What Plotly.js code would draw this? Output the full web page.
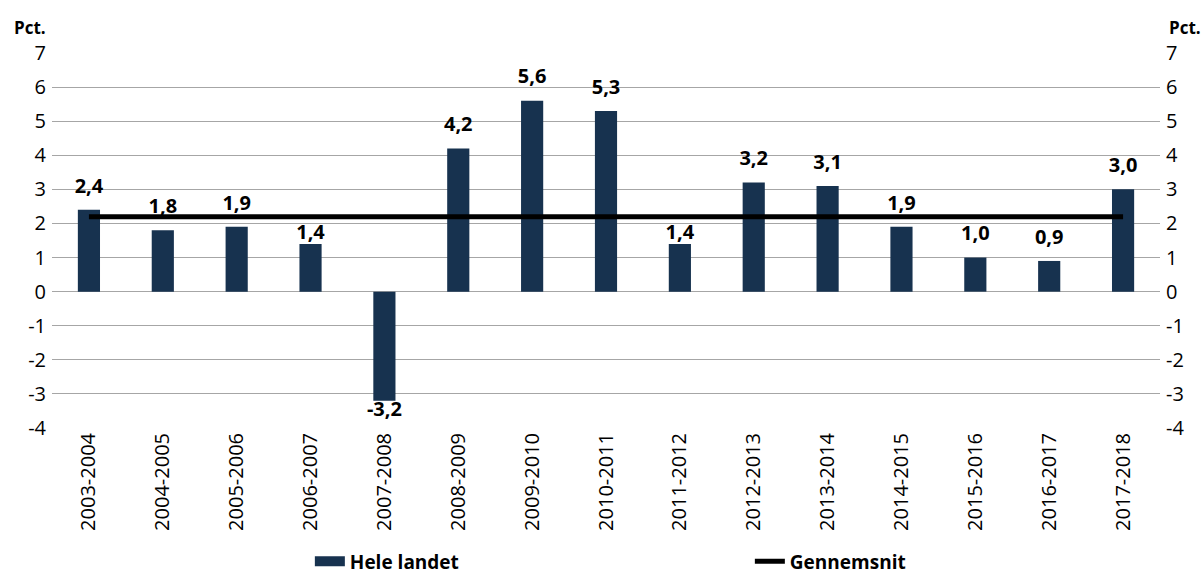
<!DOCTYPE html>
<html>
<head>
<meta charset="utf-8">
<script src="https://cdn.plot.ly/plotly-3.0.1.min.js"></script>
<style>html,body{margin:0;padding:0;background:#fff;}#chart{width:1201px;height:574px;}</style>
</head>
<body>
<div id="chart"></div>
<script>
const categories = ["2003-2004","2004-2005","2005-2006","2006-2007","2007-2008","2008-2009","2009-2010","2010-2011","2011-2012","2012-2013","2013-2014","2014-2015","2015-2016","2016-2017","2017-2018"];
const heleLandet = [2.4,1.8,1.9,1.4,-3.2,4.2,5.6,5.3,1.4,3.2,3.1,1.9,1.0,0.9,3.0];
const gennemsnit = [2.2,2.2,2.2,2.2,2.2,2.2,2.2,2.2,2.2,2.2,2.2,2.2,2.2,2.2,2.2];
const tickVals = [-4,-3,-2,-1,0,1,2,3,4,5,6,7];
const tickText = ["-4","-3","-2","-1","0","1","2","3","4","5","6","7"];

// styling: label gap (marker size used as spacer); the two 1,4 labels sit closer to their bars
const labelGap = [18,18,18,0,0,18,18,18,0,18,18,18,18,18,18];

const font = "'Open Sans', 'Noto Sans', sans-serif";
const barColor = '#17324f';
const labels = heleLandet.map(v => v.toFixed(1).replace('.', ','));

const traces = [
  {
    type: 'bar', name: 'Hele landet', x: categories, y: heleLandet,
    marker: {color: barColor}, showlegend: false, hoverinfo: 'none'
  },
  {
    type: 'scatter', mode: 'markers+text', x: categories, y: heleLandet, showlegend: false,
    text: labels, cliponaxis: false,
    textposition: heleLandet.map(v => v >= 0 ? 'top center' : 'bottom center'),
    marker: {size: labelGap, color: 'rgba(0,0,0,0)', line: {width: 0}},
    textfont: {family: font, size: 20, color: '#000', weight: 'bold'},
    hoverinfo: 'none'
  },
  {
    type: 'scatter', mode: 'lines', name: 'Gennemsnit', x: categories, y: gennemsnit,
    line: {color: '#000', width: 5}, showlegend: false,
    hoverinfo: 'none'
  },
  {
    type: 'scatter', mode: 'lines', name: 'Hele landet', x: [categories[0]], y: [null],
    line: {color: barColor, width: 15}, showlegend: true, hoverinfo: 'none'
  },
  {
    type: 'scatter', mode: 'lines', name: 'Gennemsnit', x: [categories[0]], y: [null],
    line: {color: '#000', width: 5}, showlegend: true, hoverinfo: 'none'
  },
  {
    type: 'scatter', mode: 'lines', x: categories, y: gennemsnit, yaxis: 'y2',
    showlegend: false, line: {color: 'rgba(0,0,0,0)', width: 0}, hoverinfo: 'none'
  }
];

const axisY = {
  range: [-4, 7], tickvals: tickVals, ticktext: tickText,
  showgrid: true, gridcolor: '#a6a6a6', gridwidth: 1,
  zeroline: false, showline: false, ticks: '',
  tickfont: {family: font, size: 20, color: '#000'}, fixedrange: true
};

const layout = {
  width: 1201, height: 574,
  margin: {l: 52, r: 41, t: 53, b: 146, autoexpand: false},
  paper_bgcolor: '#fff', plot_bgcolor: '#fff',
  font: {family: font, color: '#000'},
  bargap: 0.7,
  showlegend: true,
  xaxis: {
    type: 'category', range: [-0.5, categories.length - 0.5],
    tickangle: -90, ticks: '', showgrid: false, zeroline: false, showline: false,
    tickfont: {family: font, size: 20, color: '#000'}
  },
  yaxis: Object.assign({}, axisY, {ticklabelstandoff: 5}),
  yaxis2: Object.assign({}, axisY, {overlaying: 'y', side: 'right', showgrid: false, ticklabelstandoff: 5}),
  legend: {
    orientation: 'h', xref: 'container', yref: 'container',
    x: 0.258, xanchor: 'left', y: 0.022, yanchor: 'middle',
    entrywidth: 395, entrywidthmode: 'pixels',
    font: {family: font, size: 19, color: '#000', weight: 'bold'},
    bgcolor: 'rgba(0,0,0,0)'
  },
  annotations: [
    {xref: 'paper', yref: 'paper', x: 0, xshift: -40, y: 1, yshift: 12, xanchor: 'left', yanchor: 'bottom',
     text: '<b>Pct.</b>', showarrow: false, font: {family: font, size: 17, color: '#000'}},
    {xref: 'paper', yref: 'paper', x: 1, xshift: 43, y: 1, yshift: 12, xanchor: 'right', yanchor: 'bottom',
     text: '<b>Pct.</b>', showarrow: false, font: {family: font, size: 17, color: '#000'}}
  ]
};

Plotly.newPlot('chart', traces, layout, {displayModeBar: false, staticPlot: true});
</script>
</body>
</html>
